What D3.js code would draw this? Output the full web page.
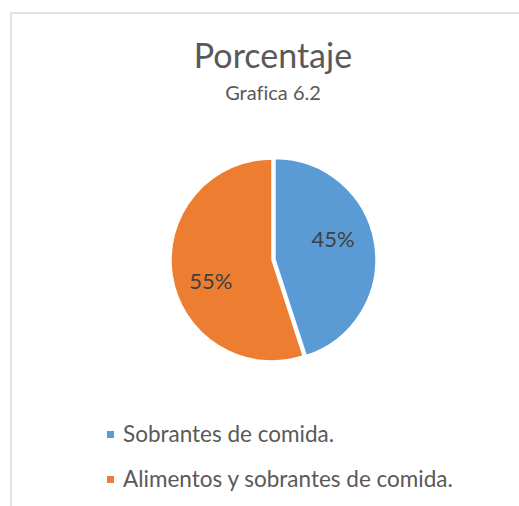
<!DOCTYPE html>
<html>
<head>
<meta charset="utf-8">
<script src="https://cdn.jsdelivr.net/npm/d3@7"></script>
<style>
  html, body { margin: 0; padding: 0; background: #fff; }
  text { font-family: Lato, "Open Sans", sans-serif; font-variant-ligatures: none; }
</style>
</head>
<body>
<div id="chart"></div>
<script>
// Chart data
const categories = ["Sobrantes de comida.", "Alimentos y sobrantes de comida."];
const values = [45, 55];
const colors = ["#5B9BD5", "#ED7D31"];
const title = "Porcentaje";
const subtitle = "Grafica 6.2";

const width = 519;
const height = 506;

const svg = d3
  .select("#chart")
  .append("svg")
  .attr("width", width)
  .attr("height", height);

svg.append("rect").attr("width", width).attr("height", height).attr("fill", "#fff");

// Chart area border (cropped on the right and bottom)
svg
  .append("rect")
  .attr("x", 11)
  .attr("y", 13)
  .attr("width", width + 20)
  .attr("height", height + 20)
  .attr("fill", "none")
  .attr("stroke", "#D9D9D9")
  .attr("stroke-width", 1.5);

// Titles
svg
  .append("text")
  .attr("x", 273)
  .attr("y", 68)
  .attr("text-anchor", "middle")
  .style("font-size", "34px")
  .style("fill", "#595959")
  .text(title);

svg
  .append("text")
  .attr("x", 273)
  .attr("y", 100)
  .attr("text-anchor", "middle")
  .style("font-size", "20px")
  .style("fill", "#595959")
  .text(subtitle);

// Pie
const cx = 272;
const cy = 260;
const radius = 101;

const pie = d3.pie().sort(null).value((d) => d);
const arcs = pie(values);
const arc = d3.arc().innerRadius(0).outerRadius(radius);

const g = svg.append("g").attr("transform", `translate(${cx}, ${cy})`);

// First slice is pulled out a little
const explode = [3, 0];

g.selectAll("path")
  .data(arcs)
  .enter()
  .append("path")
  .attr("d", arc)
  .attr("fill", (d, i) => colors[i])
  .attr("stroke", "#fff")
  .attr("stroke-width", 1.5)
  .attr("transform", (d, i) => {
    const a = (d.startAngle + d.endAngle) / 2;
    return `translate(${explode[i] * Math.sin(a)}, ${-explode[i] * Math.cos(a)})`;
  });

// Data labels
const labelR = radius * 0.64;
const labelShift = (-10 * Math.PI) / 180;
g.selectAll("text.label")
  .data(arcs)
  .enter()
  .append("text")
  .attr("class", "label")
  .attr("x", (d) => labelR * Math.sin((d.startAngle + d.endAngle) / 2 + labelShift))
  .attr("y", (d) => -labelR * Math.cos((d.startAngle + d.endAngle) / 2 + labelShift))
  .attr("dy", "0.35em")
  .attr("text-anchor", "middle")
  .style("font-size", "22px")
  .style("fill", "#404040")
  .text((d) => d.data + "%");

// Legend
const legend = svg
  .selectAll("g.legend")
  .data(categories)
  .enter()
  .append("g")
  .attr("class", "legend")
  .attr("transform", (d, i) => `translate(107, ${442 + i * 45})`);

legend
  .append("rect")
  .attr("x", 0)
  .attr("y", -11)
  .attr("width", 7)
  .attr("height", 7)
  .attr("fill", (d, i) => colors[i]);

legend
  .append("text")
  .attr("x", 16)
  .attr("y", 0)
  .style("font-size", "22.5px")
  .style("fill", "#595959")
  .text((d) => d);
</script>
</body>
</html>
